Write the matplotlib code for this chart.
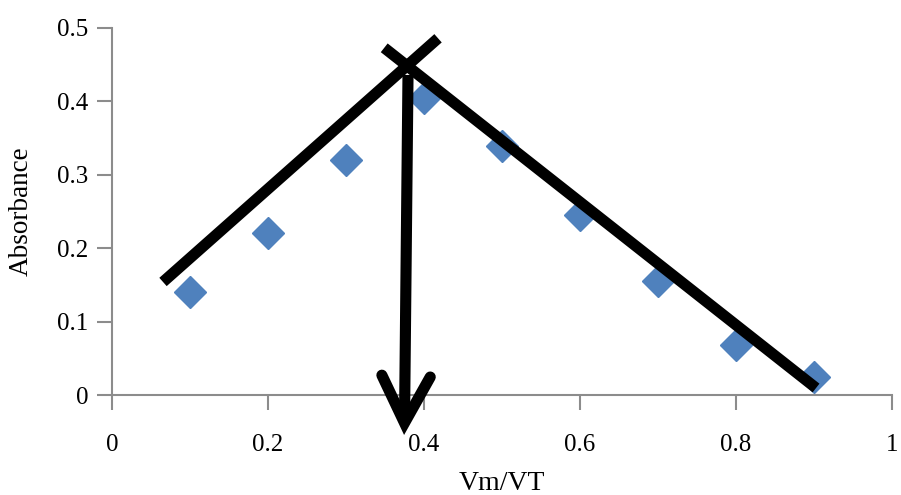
import matplotlib.pyplot as plt

# Data points
vm_vt = [0.1, 0.2, 0.3, 0.4, 0.5, 0.6, 0.7, 0.8, 0.9]
absorbance = [0.14, 0.221, 0.32, 0.405, 0.339, 0.245, 0.155, 0.068, 0.025]

# Hand-drawn lines (data coordinates)
left_line_x = [0.0654, 0.418]
left_line_y = [0.154, 0.486]
right_line_x = [0.349, 0.9026]
right_line_y = [0.473, 0.0095]
arrow_x = [0.3795, 0.375]
arrow_y = [0.436, -0.038]
arrow_head_x = [0.346, 0.375, 0.408]
arrow_head_y = [0.027, -0.038, 0.0245]

plt.rcParams['font.family'] = 'serif'
plt.rcParams['font.serif'] = ['Liberation Serif', 'Times New Roman', 'DejaVu Serif']

fig = plt.figure(figsize=(9.01, 4.95), dpi=100)
ax = fig.add_axes([112 / 901, 100 / 495, 780 / 901, 367 / 495])

ax.plot(vm_vt, absorbance, 'D', color='#4F81BD', markersize=16, zorder=2)

ax.plot(left_line_x, left_line_y, color='black', lw=8, solid_capstyle='butt', zorder=3)
ax.plot(right_line_x, right_line_y, color='black', lw=8, solid_capstyle='butt', zorder=3)
ax.plot(arrow_x, arrow_y, color='black', lw=8, solid_capstyle='butt', zorder=3, clip_on=False)
ax.plot(arrow_head_x, arrow_head_y, color='black', lw=8, solid_capstyle='round',
        solid_joinstyle='miter', zorder=3, clip_on=False)

ax.set_xlim(0, 1)
ax.set_ylim(0, 0.5)
ax.set_xticks([0, 0.2, 0.4, 0.6, 0.8, 1])
ax.set_xticklabels(['0', '0.2', '0.4', '0.6', '0.8', '1'])
ax.set_yticks([0, 0.1, 0.2, 0.3, 0.4, 0.5])
ax.set_yticklabels(['0', '0.1', '0.2', '0.3', '0.4', '0.5'])

for side in ['top', 'right']:
    ax.spines[side].set_visible(False)
for side in ['left', 'bottom']:
    ax.spines[side].set_color('#8c8c8c')
    ax.spines[side].set_linewidth(1.5)

ax.tick_params(axis='both', direction='out', length=11, width=1.5, color='#8c8c8c',
               labelsize=18, labelcolor='black')
ax.tick_params(axis='x', pad=17)
ax.tick_params(axis='y', pad=6)

ax.set_xlabel('Vm/VT', fontsize=20, labelpad=11)
ax.set_ylabel('Absorbance', fontsize=19.5, labelpad=17)

fig.savefig('out.png', dpi=100)
